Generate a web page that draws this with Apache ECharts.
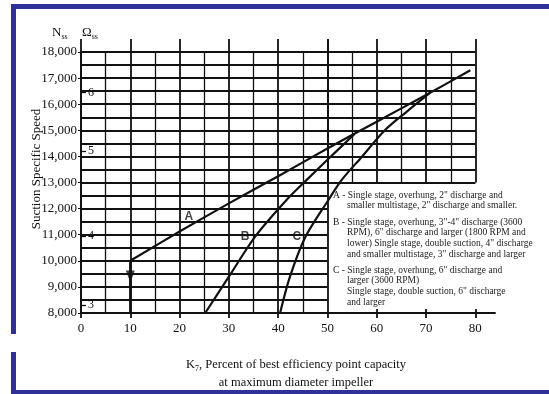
<!DOCTYPE html>
<html>
<head>
<meta charset="utf-8">
<script src="https://cdn.jsdelivr.net/npm/echarts@6/dist/echarts.min.js"></script>
<style>
  html, body { margin: 0; padding: 0; background: #fff; }
  #chart { width: 549px; height: 394px; }
</style>
</head>
<body>
<div id="chart"></div>
<script>
// tick values
const xTicks = [0, 10, 20, 30, 40, 50, 60, 70, 80];
const omegaValues = [8300, 10950, 14200, 16450];
const omegaLabels = ['3', '4', '5', '6'];

// curves [K7 %, Nss]
const curveA = [[10, 10000], [20, 11120], [30, 12200], [40, 13240], [50, 14300], [60, 15330], [70, 16350], [79, 17300]];
const curveB = [[25.2, 8000], [30, 9390], [35.3, 10920], [41.7, 12330], [45.8, 13100], [50, 13870], [55.5, 14860]];
const curveC = [[40.4, 8000], [42.4, 9390], [45.5, 10900], [50.2, 12330], [52.9, 13100], [57, 13990], [61.7, 15010], [66, 15700], [70.8, 16430]];
const dropLine = [[10, 8000], [10, 10000]];
const arrowPt = [[10, 9400]];
const curveLabels = [[21.9, 11680, 'A'], [33.3, 10910, 'B'], [43.8, 10910, 'C']];

const legendLines = [
    ['A - Single stage, overhung, 2" discharge and', 'smaller multistage, 2" discharge and smaller.'],
    ['B - Single stage, overhung, 3"-4" discharge (3600', 'RPM), 6" discharge and larger (1800 RPM and',
        'lower) Single stage, double suction, 4" discharge', 'and smaller multistage, 3" discharge and larger'],
    ['C - Single stage, overhung, 6" discharge and', 'larger (3600 RPM)',
        'Single stage, double suction, 6" discharge', 'and larger']
];

const serif = "'Liberation Serif', 'DejaVu Serif', serif";
const ink = '#111';
const blue = '#30309a';

const chart = echarts.init(document.getElementById('chart'));

// legend text elements
const legendEls = [];
const blockTops = [196, 223, 271];
legendLines.forEach((block, bi) => {
    block.forEach((t, li) => {
        legendEls.push({
            type: 'text', left: li === 0 ? 333 : 347, top: blockTops[bi] + li * 10.8 - 6,
            style: { text: t, font: '9.5px ' + serif, fill: '#222' }
        });
    });
});

const hiddenAxis = { axisLine: { show: false }, axisLabel: { show: false }, axisTick: { show: false } };
const gridLine = { lineStyle: { color: ink, width: 1.8 } };
const minorLine = { lineStyle: { color: ink, width: 1.3 } };

const option = {
    animation: false,
    backgroundColor: '#fff',
    grid: [
        { left: 81, right: 54, top: 52, bottom: 81 },          // main axes, 0..84
        { left: 81, right: 221.5, top: 52, bottom: 81 },       // grid cells 0..50
        { left: 327.5, right: 73.6, top: 52, bottom: 211.5 }   // grid cells 50..80 above 13,000
    ],
    xAxis: [
        {
            gridIndex: 0, type: 'value', min: 0, max: 84, position: 'bottom',
            axisLine: { show: true, lineStyle: { color: ink, width: 1.8 } },
            axisTick: { show: true, customValues: xTicks, length: 5, lineStyle: { color: ink, width: 1.8 } },
            axisLabel: { customValues: xTicks, color: '#111', fontFamily: serif, fontSize: 13, margin: 9 },
            splitLine: { show: false }
        },
        {
            gridIndex: 0, type: 'value', min: 0, max: 84, position: 'bottom',
            axisLine: { show: false }, axisLabel: { show: false },
            axisTick: { show: true, inside: true, customValues: [60, 70, 80], length: 4, lineStyle: { color: ink, width: 1.8 } },
            splitLine: { show: false }
        },
        Object.assign({
            gridIndex: 1, type: 'value', min: 0, max: 50, interval: 10, position: 'top',
            minorTick: { show: false, splitNumber: 2 },
            splitLine: Object.assign({ show: true }, gridLine),
            minorSplitLine: Object.assign({ show: true }, minorLine)
        }, hiddenAxis, { axisTick: { show: true, length: 13, lineStyle: { color: ink, width: 1.8 } } }),
        Object.assign({
            gridIndex: 2, type: 'value', min: 50, max: 80, interval: 10, position: 'top',
            minorTick: { show: false, splitNumber: 2 },
            splitLine: Object.assign({ show: true }, gridLine),
            minorSplitLine: Object.assign({ show: true }, minorLine)
        }, hiddenAxis, { axisTick: { show: true, length: 13, lineStyle: { color: ink, width: 1.8 } } })
    ],
    yAxis: [
        {
            gridIndex: 0, type: 'value', min: 8000, max: 18000, interval: 1000,
            axisLine: { show: true, lineStyle: { color: ink, width: 1.8 } },
            axisTick: { show: true, length: 3, lineStyle: { color: ink } },
            axisLabel: {
                color: '#111', fontFamily: serif, fontSize: 13, margin: 4,
                formatter: v => v.toLocaleString('en-US')
            },
            splitLine: { show: false }
        },
        {
            gridIndex: 0, type: 'value', min: 8000, max: 18000, position: 'left',
            axisLine: { show: false },
            axisTick: { show: true, inside: true, customValues: omegaValues, length: 5, lineStyle: { color: ink, width: 1.3 } },
            axisLabel: {
                inside: true, customValues: omegaValues, margin: 7, color: '#111', fontFamily: serif, fontSize: 12,
                formatter: v => omegaLabels[omegaValues.indexOf(v)]
            },
            splitLine: { show: false }
        },
        Object.assign({
            gridIndex: 1, type: 'value', min: 8000, max: 18000, interval: 1000,
            minorTick: { show: false, splitNumber: 2 },
            splitLine: Object.assign({ show: true }, gridLine),
            minorSplitLine: Object.assign({ show: true }, gridLine)
        }, hiddenAxis),
        Object.assign({
            gridIndex: 2, type: 'value', min: 13000, max: 18000, interval: 1000,
            minorTick: { show: false, splitNumber: 2 },
            splitLine: Object.assign({ show: true }, gridLine),
            minorSplitLine: Object.assign({ show: true }, gridLine)
        }, hiddenAxis)
    ],
    series: [
        { name: 'A', type: 'line', xAxisIndex: 0, yAxisIndex: 0, data: curveA, smooth: 0.3, showSymbol: false, lineStyle: { color: ink, width: 2.2 } },
        { name: 'B', type: 'line', xAxisIndex: 0, yAxisIndex: 0, data: curveB, smooth: 0.3, showSymbol: false, lineStyle: { color: ink, width: 2.2 } },
        { name: 'C', type: 'line', xAxisIndex: 0, yAxisIndex: 0, data: curveC, smooth: 0.3, showSymbol: false, lineStyle: { color: ink, width: 2.2 } },
        { name: 'drop', type: 'line', xAxisIndex: 0, yAxisIndex: 0, data: dropLine, showSymbol: false, lineStyle: { color: ink, width: 2.4 } },
        {
            name: 'arrow', type: 'scatter', xAxisIndex: 0, yAxisIndex: 0, data: arrowPt,
            symbol: 'triangle', symbolRotate: 180, symbolSize: [9, 12], itemStyle: { color: ink }
        },
        {
            name: 'labels', type: 'scatter', xAxisIndex: 0, yAxisIndex: 0, data: curveLabels,
            symbolSize: 0,
            label: {
                show: true, position: 'inside', formatter: p => p.data[2],
                fontFamily: "'Liberation Sans', Arial, sans-serif", fontWeight: 'bold', fontSize: 12, color: ink
            }
        }
    ],
    graphic: [
        // frame
        { type: 'rect', shape: { x: 11, y: 4, width: 538, height: 5 }, style: { fill: blue } },
        { type: 'rect', shape: { x: 11, y: 4, width: 5, height: 330 }, style: { fill: blue } },
        { type: 'rect', shape: { x: 11, y: 352, width: 5, height: 42 }, style: { fill: blue } },
        { type: 'rect', shape: { x: 11, y: 390, width: 538, height: 4 }, style: { fill: blue } },
        // axis headers
        {
            type: 'text', left: 52, top: 26,
            style: { text: '{m|N}{s|ss}', rich: { m: { font: '13px ' + serif, fill: '#111' }, s: { font: '8px ' + serif, fill: '#111', padding: [8, 0, 0, 0] } } }
        },
        {
            type: 'text', left: 82, top: 26,
            style: { text: '{m|Ω}{s|ss}', rich: { m: { font: '13px ' + serif, fill: '#111' }, s: { font: '8px ' + serif, fill: '#111', padding: [8, 0, 0, 0] } } }
        },
        {
            type: 'text', x: 37, y: 169, rotation: Math.PI / 2,
            style: { text: 'Suction Specific Speed', font: '13px ' + serif, fill: '#111', align: 'center', verticalAlign: 'middle' }
        },
        {
            type: 'text', x: 296, y: 365,
            style: {
                text: '{m|K}{s|7}{m|, Percent of best efficiency point capacity}',
                align: 'center', verticalAlign: 'middle',
                rich: { m: { font: '12.5px ' + serif, fill: '#111' }, s: { font: '8px ' + serif, fill: '#111', padding: [7, 0, 0, 0] } }
            }
        },
        {
            type: 'text', x: 296, y: 383,
            style: { text: 'at maximum diameter impeller', font: '12.5px ' + serif, fill: '#111', align: 'center', verticalAlign: 'middle' }
        }
    ].concat(legendEls)
};

chart.setOption(option);
</script>
</body>
</html>
